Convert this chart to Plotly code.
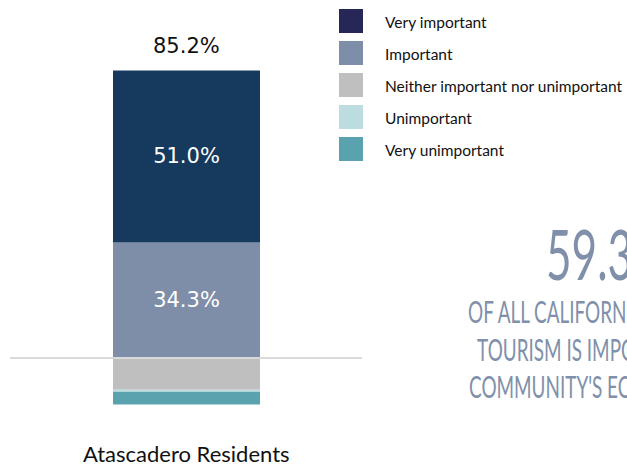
import json
import plotly.graph_objects as go

# ---- data ----
group = "Atascadero Residents"
pos_labels = ["Important", "Very important"]
pos_values = [34.3, 51.0]
neg_labels = ["Neither important nor unimportant", "Unimportant", "Very unimportant"]
neg_values = [9.4, 0.6, 3.8]
total_label = "85.2%"

legend_labels = ["Very important", "Important", "Neither important nor unimportant",
                 "Unimportant", "Very unimportant"]
legend_colors = ["#262756", "#7f8ea8", "#bfbfbf", "#bddcdf", "#5aa3ae"]
bar_colors = {"Very important": "#163a5e", "Important": "#7f8ea8",
              "Neither important nor unimportant": "#bfbfbf",
              "Unimportant": "#bddcdf", "Very unimportant": "#5aa3ae"}

callout_number = "59.3%"
callout_lines = ["OF ALL CALIFORNIANS SAY", "TOURISM IS IMPORTANT TO THEIR", "COMMUNITY'S ECONOMY"]

W, H = 627, 467
fig = go.Figure()

num_font = dict(family="DejaVu Sans, sans-serif", size=21)

for lab, v in zip(pos_labels, pos_values):
    fig.add_trace(go.Bar(
        x=[0], y=[v], width=1, name=lab, showlegend=False,
        marker=dict(color=bar_colors[lab], line=dict(width=0)),
        text=[f"{v:.1f}%"], textposition="inside", insidetextanchor="middle",
        textfont=dict(num_font, color="#ffffff"),
        hoverinfo="skip",
    ))
for lab, v in zip(neg_labels, neg_values):
    fig.add_trace(go.Bar(
        x=[0], y=[-v], width=1, name=lab, showlegend=False,
        marker=dict(color=bar_colors[lab], line=dict(width=0)),
        hoverinfo="skip",
    ))

# x range chosen so bar spans ~113..260 px
px_per_unit = 147.0
x0 = -0.5 - 113 / px_per_unit
x1 = x0 + W / px_per_unit
py = 3.37
y_top = 358 / py
y_bot = -(H - 358) / py

fig.update_layout(
    width=W, height=H,
    margin=dict(l=0, r=0, t=0, b=0),
    paper_bgcolor="white", plot_bgcolor="white",
    barmode="relative",
    xaxis=dict(range=[x0, x1], visible=False, fixedrange=True),
    yaxis=dict(range=[y_bot, y_top], visible=False, fixedrange=True),
    showlegend=False,
)

# baseline
fig.add_shape(type="line", xref="paper", yref="y", x0=10 / W, x1=362 / W, y0=0, y1=0,
              line=dict(color="#d9d9d9", width=2), layer="above")

# total above bar
fig.add_annotation(x=0, y=sum(pos_values), xref="x", yref="y", text=total_label,
                   showarrow=False, yanchor="bottom", yshift=11,
                   font=dict(num_font, color="#111111"))

# category label
fig.add_annotation(x=0, y=1 - 453 / H, xref="x", yref="paper", text=group,
                   showarrow=False, yanchor="middle",
                   font=dict(family="Lato, sans-serif", size=22, color="#111111"))

# manual legend
for i, (lab, col) in enumerate(zip(legend_labels, legend_colors)):
    top = 9 + 32 * i
    fig.add_shape(type="rect", xref="paper", yref="paper",
                  x0=339 / W, x1=363 / W, y0=1 - (top + 24) / H, y1=1 - top / H,
                  fillcolor=col, line=dict(width=0))
    fig.add_annotation(x=383 / W, y=1 - (top + 13) / H, xref="paper", yref="paper",
                       text=lab, showarrow=False, xanchor="left", yanchor="middle",
                       font=dict(family="Lato, sans-serif", size=15.5, color="#111111"))

# callout text (clipped at right edge, as in the reference)
cond = "Lato, sans-serif"
fig.add_annotation(x=544 / W, y=1 - 253 / H, xref="paper", yref="paper",
                   text=callout_number, showarrow=False, xanchor="left", yanchor="middle",
                   font=dict(family=cond, size=70, color="#8090aa"))
starts = [466, 475, 467]
centers = [311, 349, 386]
for line, sx, cy in zip(callout_lines, starts, centers):
    fig.add_annotation(x=sx / W, y=1 - cy / H, xref="paper", yref="paper",
                       text=line, showarrow=False, xanchor="left", yanchor="middle",
                       font=dict(family=cond, size=30, color="#8090aa"))

targets = json.dumps([callout_number] + callout_lines)
post = """
document.body.style.margin = '0';
var gd = document.getElementById('{plot_id}');
var targets = TARGETS;
gd.querySelectorAll('text.annotation-text').forEach(function(t){
  if (targets.indexOf(t.textContent) >= 0) {
    t.style.transformBox = 'fill-box';
    t.style.transformOrigin = '0% 50%';
    t.style.transform = 'scaleX(0.63)';
  }
});
""".replace("TARGETS", targets)

fig.write_html("out.html", post_script=post, config={"displayModeBar": False, "staticPlot": True})
